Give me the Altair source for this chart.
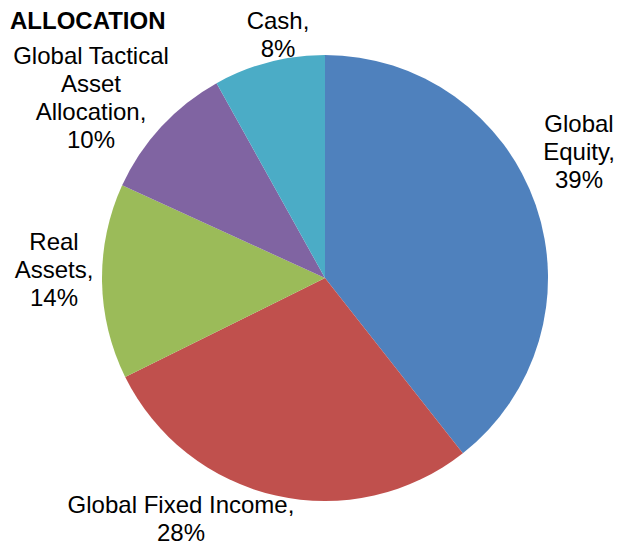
import altair as alt
import pandas as pd

# Data
categories = ["Global Equity", "Global Fixed Income", "Real Assets",
              "Global Tactical Asset Allocation", "Cash"]
values = [39, 28, 14, 10, 8]
label_lines = [["Global", "Equity,", "39%"],
               ["Global Fixed Income,", "28%"],
               ["Real", "Assets,", "14%"],
               ["Global Tactical", "Asset", "Allocation,", "10%"],
               ["Cash,", "8%"]]
colors = ["#4F81BD", "#C0504D", "#9BBB59", "#8064A2", "#4BACC6"]
title_text = "ALLOCATION"

# Layout (label anchor positions in pixels, first line; line spacing)
label_x = [571, 173, 46, 83, 270]
label_y = [117, 498, 235, 49, 14]
LINE_H = 28

pie_df = pd.DataFrame({"category": categories, "value": values,
                       "idx": list(range(len(categories)))})
rows = []
for lines, lx, ly in zip(label_lines, label_x, label_y):
    for i, line in enumerate(lines):
        rows.append({"label": line, "lx": lx, "ly": ly + i * LINE_H})
lab_df = pd.DataFrame(rows)
title_df = pd.DataFrame({"t": [title_text], "tx": [2], "ty": [14]})

FONT = "Liberation Sans"

pie = alt.Chart(pie_df).mark_arc(outerRadius=223).encode(
    theta=alt.Theta("value:Q", stack=True),
    color=alt.Color("category:N", scale=alt.Scale(domain=categories, range=colors), legend=None),
    order=alt.Order("idx:Q"),
    x=alt.value(317),
    y=alt.value(270),
)

labels = alt.Chart(lab_df).mark_text(
    font=FONT, fontSize=24, align="center", baseline="middle", color="#000000"
).encode(
    x=alt.X("lx:Q", scale=None),
    y=alt.Y("ly:Q", scale=None),
    text="label:N",
)

title = alt.Chart(title_df).mark_text(
    font=FONT, fontSize=24, fontWeight="bold", align="left", baseline="middle", color="#000000"
).encode(
    x=alt.X("tx:Q", scale=None),
    y=alt.Y("ty:Q", scale=None),
    text="t:N",
)

chart = alt.layer(pie, labels, title).properties(
    width=610, height=540, padding=0,
    autosize=alt.AutoSizeParams(type="none"),
).configure_view(stroke=None)

chart.save("out.html", embed_options={"renderer": "svg", "actions": False})
